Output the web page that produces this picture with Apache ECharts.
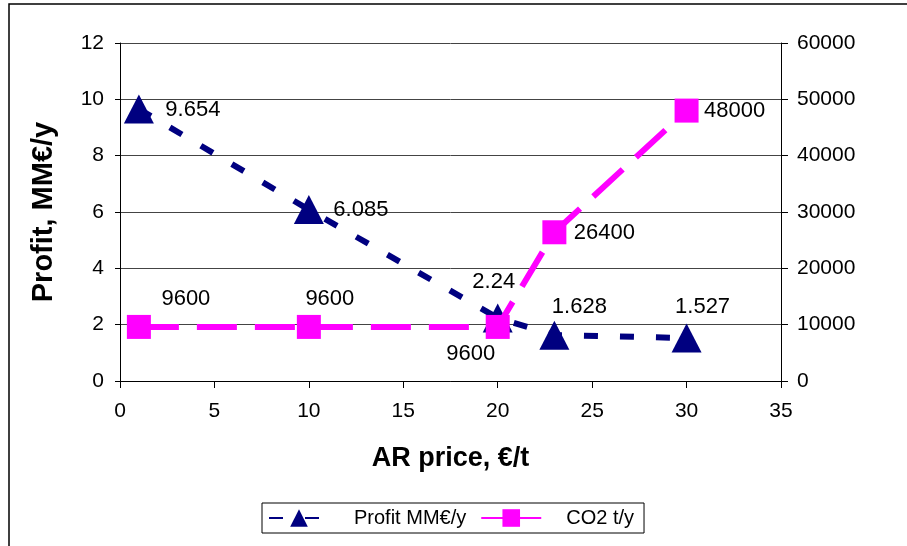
<!DOCTYPE html>
<html>
<head>
<meta charset="utf-8">
<script src="https://cdn.jsdelivr.net/npm/echarts@6/dist/echarts.min.js"></script>
<style>
    html, body { margin: 0; padding: 0; background: #fff; }
    #chart { width: 907px; height: 546px; }
</style>
</head>
<body>
<div id="chart"></div>
<script>
// AR price, €/t
var arPrice = [1, 10, 20, 23, 30];
// Profit, MM€/y
var profit = [9.654, 6.085, 2.24, 1.628, 1.527];
// CO2, t/y
var co2 = [9600, 9600, 9600, 26400, 48000];

// label offsets (px from marker center)
var profitLabelOffset = [[54, 1], [52, 0], [-4, -36], [25, -28], [16, -31]];
var co2LabelOffset = [[47, -28], [21, -28], [-27, 27], [50, 1], [48, 0]];

var font = 'Liberation Sans, Arial, sans-serif';

var chart = echarts.init(document.getElementById('chart'));

var profitData = arPrice.map(function (x, i) {
    return {
        value: [x, profit[i]],
        label: { offset: profitLabelOffset[i] }
    };
});
var co2Data = arPrice.map(function (x, i) {
    return {
        value: [x, co2[i]],
        label: { offset: co2LabelOffset[i] }
    };
});

var labelTpl = {
    show: true,
    position: 'inside',
    color: '#000',
    fontSize: 22,
    fontFamily: font
};

var option = {
    animation: false,
    backgroundColor: '#fff',
    textStyle: { fontFamily: font },
    graphic: [{
        type: 'rect',
        shape: { x: 9, y: 4, width: 1000, height: 700 },
        style: { fill: null, stroke: '#000', lineWidth: 1.5 },
        silent: true,
        z: -1
    }],
    grid: {
        left: 120,
        right: 126,
        top: 43,
        bottom: 165
    },
    legend: {
        left: 262,
        top: 503,
        padding: [5, 10, 5, 6],
        borderColor: '#000',
        borderWidth: 1,
        itemWidth: 60,
        itemHeight: 22,
        itemGap: 14,
        textStyle: { fontSize: 20, color: '#000', fontFamily: font, padding: [0, 0, 0, 20] },
        data: [
            { name: 'Profit MM€/y' },
            { name: 'CO2 t/y', lineStyle: { type: 'solid' } }
        ]
    },
    xAxis: {
        type: 'value',
        min: 0,
        max: 35,
        interval: 5,
        name: 'AR price, €/t',
        nameLocation: 'middle',
        nameGap: 64,
        nameTextStyle: { fontSize: 27, fontWeight: 'bold', color: '#000', fontFamily: font },
        axisLine: { onZero: false, lineStyle: { color: '#000', width: 1 } },
        axisTick: { show: true, length: 7, lineStyle: { color: '#000' } },
        axisLabel: { fontSize: 21, color: '#000', margin: 20, fontFamily: font },
        splitLine: { show: false }
    },
    yAxis: [{
        type: 'value',
        min: 0,
        max: 12,
        interval: 2,
        name: 'Profit, MM€/y',
        nameLocation: 'middle',
        nameGap: 62,
        nameTextStyle: { fontSize: 29, fontWeight: 'bold', color: '#000', fontFamily: font },
        axisLine: { show: true, lineStyle: { color: '#000', width: 1 } },
        axisTick: { show: true, length: 5, lineStyle: { color: '#000' } },
        axisLabel: { fontSize: 21, color: '#000', margin: 16, fontFamily: font },
        splitLine: { show: true, lineStyle: { color: '#444', width: 1 } }
    }, {
        type: 'value',
        min: 0,
        max: 60000,
        interval: 10000,
        position: 'right',
        axisLine: { show: true, lineStyle: { color: '#000', width: 1 } },
        axisTick: { show: true, length: 7, lineStyle: { color: '#000' } },
        axisLabel: {
            fontSize: 21, color: '#000', margin: 16, fontFamily: font,
            formatter: function (v) { return String(v); }
        },
        splitLine: { show: false }
    }],
    series: [{
        name: 'Profit MM€/y',
        type: 'line',
        yAxisIndex: 0,
        data: profitData,
        symbol: 'triangle',
        symbolSize: [30, 29],
        itemStyle: { color: '#000080' },
        lineStyle: { color: '#000080', width: 6, type: [14, 22] },
        label: labelTpl,
        z: 2
    }, {
        name: 'CO2 t/y',
        type: 'line',
        yAxisIndex: 1,
        data: co2Data,
        symbol: 'rect',
        symbolSize: 24,
        itemStyle: { color: '#ff00ff' },
        lineStyle: { color: '#ff00ff', width: 6, type: [40, 18] },
        label: labelTpl,
        z: 3
    }]
};

chart.setOption(option);
</script>
</body>
</html>
